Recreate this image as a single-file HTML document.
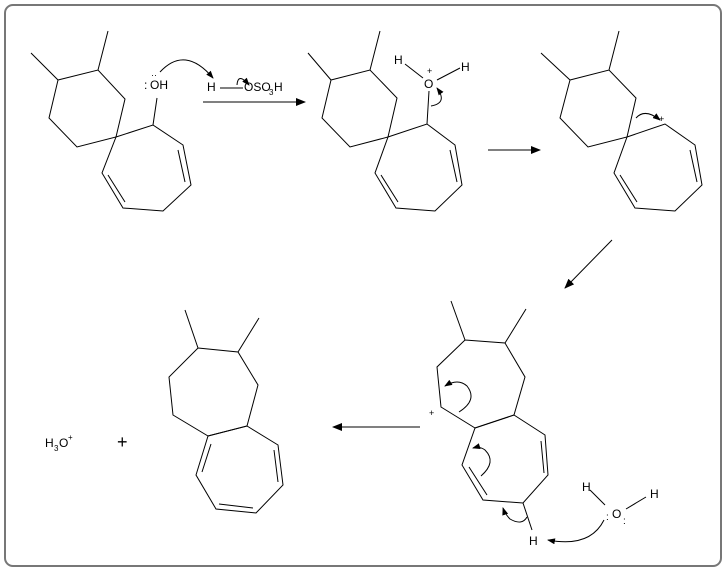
<!DOCTYPE html>
<html><head><style>body{margin:0;background:#fff}svg{display:block}text{font-family:"Liberation Sans",sans-serif;fill:#000}</style></head>
<body>
<svg width="726" height="571" viewBox="0 0 726 571" xmlns="http://www.w3.org/2000/svg">
<defs><marker id="a" markerWidth="10" markerHeight="8" refX="9" refY="4" orient="auto" markerUnits="userSpaceOnUse"><path d="M0,0 L10,4 L0,8 z" fill="#000"/></marker>
<marker id="s" markerWidth="8" markerHeight="6" refX="7" refY="3" orient="auto" markerUnits="userSpaceOnUse"><path d="M0,0 L8,3 L0,6 z" fill="#000"/></marker></defs>
<rect x="5" y="5" width="716" height="561" rx="8" fill="none" stroke="#777" stroke-width="2"/>
<g stroke="#000" stroke-width="1" fill="none">
<!-- mol1 -->
<path d="M31,53L58,80M108,31L98,70M58,80L98,70L125,99L116,137L77,147L49,118Z"/>
<path d="M116,137L153,125L183,145L191,185L163,211L123,208L102,173Z"/>
<path d="M178,150L185,182M108,175L125,202M153,125L157,98"/>
<path d="M160,72Q185,45 213,78" marker-end="url(#s)"/>
<path d="M220,88L243,88"/>
<path d="M237,85Q238,72 249,85" marker-end="url(#s)"/>
<path d="M203,102L305,102" marker-end="url(#a)"/>
<!-- mol2 -->
<path d="M308,53L331,80M380,31L370,70M331,80L370,70L397,98L388,137L350,147L322,118Z"/>
<path d="M388,137L427,124L455,145L462,185L435,211L396,208L375,173Z"/>
<path d="M450,150L457,182M381,175L398,202M427,124L429,91M405,64L423,78M437,80L460,68"/>
<path d="M431,106Q448,103 437,88" marker-end="url(#s)"/>
<path d="M488,150L540,150" marker-end="url(#a)"/>
<!-- mol3 -->
<path d="M541,53L570,80M619,31L609,70M570,80L609,70L636,98L627,137L588,147L560,118Z"/>
<path d="M627,137L665,124L695,145L702,185L675,211L635,208L614,173Z"/>
<path d="M690,150L697,182M620,175L637,202"/>
<path d="M636,118Q645,108 660,120" marker-end="url(#s)"/>
<path d="M612,240L565,288" marker-end="url(#a)"/>
<!-- mol4 -->
<path d="M451,301L465,340M526,309L505,343M465,340L505,343L525,377L514,415L475,428L441,407L437,367Z"/>
<path d="M475,428L514,415L545,435L548,475L523,503L483,500L462,465Z"/>
<path d="M541,441L544,473M469,467L487,495M523,503L532,530"/>
<path d="M459,412Q478,400 467,386Q458,378 445,386" marker-end="url(#s)"/>
<path d="M481,476Q497,462 485,450Q480,446 473,448" marker-end="url(#s)"/>
<path d="M527,517Q522,526 510,519Q505,514 503,508" marker-end="url(#s)"/>
<path d="M604,520Q590,548 548,540" marker-end="url(#s)"/>
<path d="M590,490L605,505M626,509L646,497"/>
<path d="M420,427L333,427" marker-end="url(#a)"/>
<!-- mol5 -->
<path d="M185,310L198,348M259,318L238,352M198,348L238,352L258,385L247,426L208,436L173,415L169,377Z"/>
<path d="M208,436L247,426L278,445L283,485L256,513L216,509L196,475Z"/>
<path d="M211,444L202,472M274,450L278,482M219,504L253,508"/>
</g>
<g font-size="12">
<text x="144" y="89">:</text><text x="150" y="89">OH</text>
<text x="151" y="78" font-size="9">··</text>
<text x="207" y="91">H</text>
<text x="244" y="91">OSO</text><text x="269" y="95" font-size="8">3</text><text x="274" y="91">H</text>
<text x="394" y="64">H</text><text x="424" y="88">O</text><text x="427" y="74" font-size="9">+</text><text x="461" y="71">H</text>
<text x="659" y="122" font-size="9">+</text>
<text x="429" y="416" font-size="9">+</text>
<text x="529" y="545">H</text>
<text x="582" y="491">H</text><text x="612" y="518">O</text><text x="606" y="520" font-size="10">:</text><text x="623" y="524" font-size="10">:</text><text x="650" y="498">H</text>
<text x="45" y="447">H</text><text x="54" y="451" font-size="8">3</text><text x="59" y="447">O</text><text x="68" y="440" font-size="8">+</text>
<text x="117" y="448" font-size="18">+</text>
</g>
</svg>
</body></html>
